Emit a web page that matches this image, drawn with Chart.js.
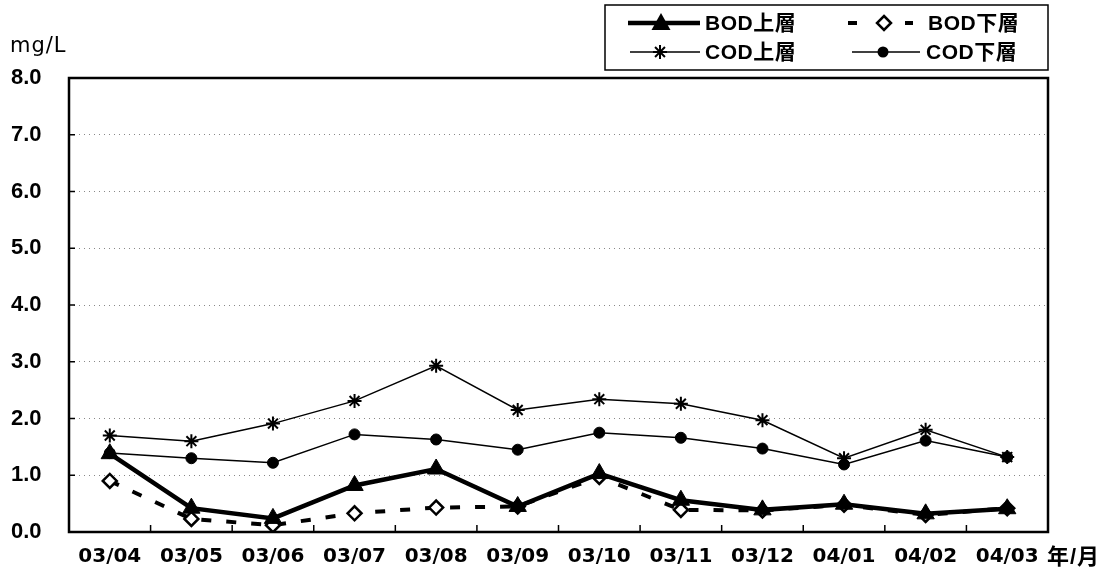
<!DOCTYPE html>
<html>
<head>
<meta charset="utf-8">
<script src="https://cdn.jsdelivr.net/npm/chart.js@4.4.1/dist/chart.umd.min.js"></script>
<style>
  html, body { margin: 0; padding: 0; background: #fff; }
  #wrap { width: 1110px; height: 584px; position: relative; }
</style>
</head>
<body>
<div id="wrap"><canvas id="c" width="1110" height="584"></canvas></div>
<script>
const categories = ["03/04","03/05","03/06","03/07","03/08","03/09","03/10","03/11","03/12","04/01","04/02","04/03"];
const bodUpper = [1.38, 0.42, 0.24, 0.82, 1.11, 0.45, 1.03, 0.56, 0.39, 0.49, 0.32, 0.41];
const bodLower = [0.90, 0.23, 0.12, 0.33, 0.43, 0.45, 0.97, 0.39, 0.38, 0.48, 0.30, 0.42];
const codUpper = [1.70, 1.60, 1.91, 2.31, 2.93, 2.15, 2.34, 2.26, 1.97, 1.30, 1.80, 1.32];
const codLower = [1.39, 1.30, 1.22, 1.72, 1.63, 1.45, 1.75, 1.66, 1.47, 1.19, 1.61, 1.32];
const seriesNames = ["BOD上層", "BOD下層", "COD上層", "COD下層"];
const yTicks = [0, 1, 2, 3, 4, 5, 6, 7, 8];
const yUnit = "mg/L";
const xUnit = "年/月";

const SANS = "'Liberation Sans', 'Noto Sans CJK JP', sans-serif";
const WIDE = "'DejaVu Sans', 'Noto Sans CJK JP', sans-serif";

function drawMarker(ctx, style, x, y, r, fill, stroke, lw) {
  ctx.save();
  ctx.lineWidth = lw;
  ctx.strokeStyle = stroke;
  ctx.fillStyle = fill;
  ctx.beginPath();
  if (style === 'triangle') {
    ctx.moveTo(x, y - r);
    ctx.lineTo(x + r * 0.95, y + r * 0.7);
    ctx.lineTo(x - r * 0.95, y + r * 0.7);
    ctx.closePath();
    ctx.fill();
  } else if (style === 'rectRot') {
    ctx.moveTo(x, y - r); ctx.lineTo(x + r, y); ctx.lineTo(x, y + r); ctx.lineTo(x - r, y); ctx.closePath();
    ctx.fill(); ctx.stroke();
  } else if (style === 'circle') {
    ctx.arc(x, y, r, 0, Math.PI * 2); ctx.fill();
  } else if (style === 'star') {
    for (let k = 0; k < 4; k++) {
      const a = k * Math.PI / 4;
      ctx.moveTo(x - Math.cos(a) * r, y - Math.sin(a) * r);
      ctx.lineTo(x + Math.cos(a) * r, y + Math.sin(a) * r);
    }
    ctx.stroke();
  }
  ctx.restore();
}

const decor = {
  id: 'decor',
  afterDatasetsDraw(chart) {
    const ctx = chart.ctx;
    const a = chart.chartArea;
    const xs = chart.scales.x;
    const ys = chart.scales.y;
    ctx.save();
    // plot frame
    ctx.strokeStyle = '#000';
    ctx.lineWidth = 2.5;
    ctx.strokeRect(a.left, a.top, a.right - a.left, a.bottom - a.top);
    // x ticks (inside, at category boundaries)
    ctx.lineWidth = 1.5;
    ctx.beginPath();
    for (let i = 0; i < categories.length - 1; i++) {
      const px = (xs.getPixelForValue(i) + xs.getPixelForValue(i + 1)) / 2;
      ctx.moveTo(px, a.bottom);
      ctx.lineTo(px, a.bottom - 7);
    }
    // y ticks (inside)
    yTicks.forEach(v => {
      const py = ys.getPixelForValue(v);
      ctx.moveTo(a.left, py);
      ctx.lineTo(a.left + 6, py);
    });
    ctx.stroke();

    // unit labels
    ctx.fillStyle = '#000';
    ctx.textBaseline = 'middle';
    ctx.textAlign = 'left';
    ctx.letterSpacing = '1px';
    ctx.font = '21px ' + WIDE;
    ctx.fillText(yUnit, 10, 47);
    ctx.letterSpacing = '1px';
    ctx.font = 'bold 22px ' + SANS;
    ctx.fillText(xUnit, a.right - 1, 558);
    ctx.letterSpacing = '0.5px';

    // legend
    const bx = 605, by = 5, bw = a.right - 605, bh = 65;
    ctx.fillStyle = '#fff';
    ctx.fillRect(bx, by, bw, bh);
    ctx.strokeStyle = '#000';
    ctx.lineWidth = 1.5;
    ctx.strokeRect(bx, by, bw, bh);
    const items = [
      { ds: 0, x0: 628, x1: 700, mx: 661, tx: 705, y: 23 },
      { ds: 1, x0: 848, x1: 913, mx: 884, tx: 928, y: 23 },
      { ds: 2, x0: 630, x1: 700, mx: 660, tx: 705, y: 52 },
      { ds: 3, x0: 852, x1: 920, mx: 883, tx: 926, y: 52 }
    ];
    items.forEach(it => {
      const d = chart.data.datasets[it.ds];
      ctx.save();
      ctx.strokeStyle = d.borderColor;
      ctx.lineWidth = d.borderWidth;
      ctx.beginPath();
      if (d.borderDash && d.borderDash.length) {
        ctx.moveTo(it.x0, it.y); ctx.lineTo(it.x0 + 9, it.y);
        ctx.moveTo(it.x1 - 8, it.y); ctx.lineTo(it.x1, it.y);
      } else {
        ctx.moveTo(it.x0, it.y);
        ctx.lineTo(it.x1, it.y);
      }
      ctx.stroke();
      ctx.restore();
      drawMarker(ctx, d.pointStyle, it.mx, it.y, d.pointRadius, d.pointBackgroundColor, d.pointBorderColor, d.pointBorderWidth);
      ctx.fillStyle = '#000';
      ctx.font = 'bold 21px ' + SANS;
      ctx.textAlign = 'left';
      ctx.textBaseline = 'middle';
      ctx.fillText(d.label, it.tx, it.y + 1);
    });
    ctx.restore();
  }
};

new Chart(document.getElementById('c'), {
  type: 'line',
  data: {
    labels: categories,
    datasets: [
      { label: seriesNames[0], data: bodUpper, borderColor: '#000', borderWidth: 4.5,
        pointStyle: 'triangle', pointRadius: 10, pointBackgroundColor: '#000', pointBorderColor: '#000', pointBorderWidth: 1, order: 0 },
      { label: seriesNames[1], data: bodLower, borderColor: '#000', borderWidth: 4, borderDash: [10, 15],
        pointStyle: 'rectRot', pointRadius: 7, pointBackgroundColor: '#fff', pointBorderColor: '#000', pointBorderWidth: 2.5, order: 1 },
      { label: seriesNames[2], data: codUpper, borderColor: '#000', borderWidth: 1.5,
        pointStyle: 'star', pointRadius: 7, pointBackgroundColor: '#000', pointBorderColor: '#000', pointBorderWidth: 2, order: 2 },
      { label: seriesNames[3], data: codLower, borderColor: '#000', borderWidth: 1.5,
        pointStyle: 'circle', pointRadius: 5.5, pointBackgroundColor: '#000', pointBorderColor: '#000', pointBorderWidth: 1, order: 3 }
    ]
  },
  options: {
    responsive: false,
    animation: false,
    events: [],
    layout: { padding: { top: 78, right: 62, bottom: 0, left: 11 } },
    plugins: { legend: { display: false }, tooltip: { enabled: false } },
    scales: {
      x: {
        offset: true,
        grid: { display: false, drawTicks: false },
        border: { display: false },
        ticks: { color: '#000', font: { family: WIDE, size: 20, weight: 'bold' }, padding: 13, maxRotation: 0, autoSkip: false },
        afterFit(s) { s.height = 52; }
      },
      y: {
        min: 0, max: 8,
        afterBuildTicks(s) { s.ticks = yTicks.map(v => ({ value: v })); },
        grid: {
          color: c => (c.tick && (c.tick.value === 0 || c.tick.value === 8)) ? 'rgba(0,0,0,0)' : '#888',
          lineWidth: 1, drawTicks: false
        },
        border: { display: false, dash: [1, 4] },
        ticks: { color: '#000', font: { family: SANS, size: 22, weight: 'bold' }, crossAlign: 'far', padding: 0,
                 callback: v => Number(v).toFixed(1) },
        afterFit(s) { s.width = 58; }
      }
    }
  },
  plugins: [decor]
});
</script>
</body>
</html>
